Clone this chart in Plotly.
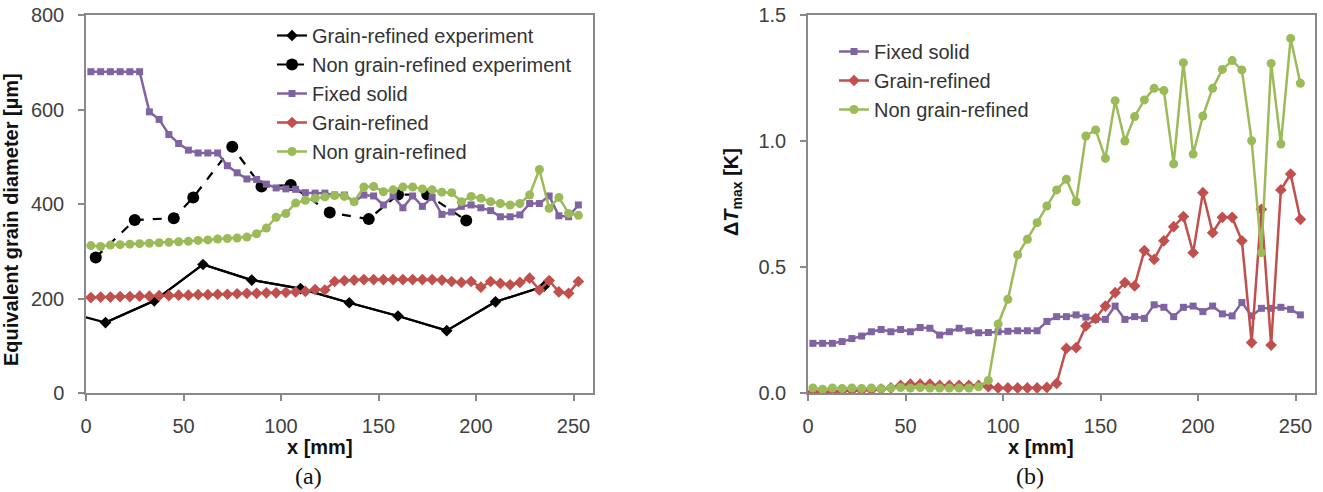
import plotly.graph_objects as go

# ---------------- data ----------------
x_sim = [2.5 + 5 * i for i in range(51)]

# Panel (a): equivalent grain diameter [µm]
gr_exp_x = [0, 10, 35, 60, 85, 110, 135, 160, 185, 210, 235]
gr_exp_y = [160, 149, 195, 272, 239, 221, 191, 163, 132, 193, 226]

ngr_exp_x = [5, 25, 45, 55, 75, 90, 105, 125, 145, 160, 175, 195]
ngr_exp_y = [287, 366, 370, 414, 521, 437, 440, 382, 368, 420, 420, 365]

fixed_a = [680, 680, 680, 680, 680, 680, 595, 579, 547, 528, 514, 508, 508, 508,
           481, 466, 453, 452, 442, 434, 432, 431, 424, 423, 423, 419, 419, 405,
           419, 417, 398, 417, 392, 417, 395, 414, 378, 383, 395, 398, 392, 386,
           373, 373, 377, 401, 401, 417, 375, 373, 398]

grain_a = [202, 203, 203, 204, 204, 205, 205, 206, 206, 207, 207, 208, 208, 209,
           209, 210, 211, 211, 212, 212, 213, 214, 215, 219, 218, 236, 238, 239,
           240, 240, 240, 240, 240, 240, 240, 240, 239, 236, 234, 236, 224, 236,
           232, 229, 234, 243, 218, 238, 214, 211, 236]

nongrain_a = [312, 310, 313, 314, 315, 316, 317, 318, 319, 320, 321, 323, 324, 326,
              327, 328, 330, 337, 349, 372, 380, 402, 408, 412, 415, 418, 416, 405,
              436, 437, 426, 430, 436, 436, 432, 430, 425, 424, 405, 416, 412, 405,
              401, 398, 401, 419, 473, 391, 414, 380, 376]

# Panel (b): ΔT_max [K]
fixed_b = [0.197, 0.197, 0.197, 0.204, 0.216, 0.226, 0.243, 0.252, 0.243, 0.252,
           0.243, 0.26, 0.257, 0.23, 0.243, 0.257, 0.247, 0.239, 0.24, 0.243,
           0.245, 0.247, 0.247, 0.247, 0.284, 0.303, 0.303, 0.31, 0.301, 0.292,
           0.292, 0.345, 0.292, 0.303, 0.296, 0.35, 0.34, 0.303, 0.34, 0.345,
           0.323, 0.345, 0.314, 0.306, 0.359, 0.306, 0.336, 0.336, 0.34, 0.332, 0.31]

grain_b = [0.005, 0.005, 0.005, 0.008, 0.01, 0.01, 0.012, 0.015, 0.02, 0.03,
           0.035, 0.035, 0.035, 0.03, 0.03, 0.03, 0.03, 0.03, 0.025, 0.02,
           0.02, 0.02, 0.02, 0.02, 0.022, 0.038, 0.177, 0.18, 0.266, 0.296,
           0.345, 0.398, 0.438, 0.425, 0.565, 0.53, 0.604, 0.66, 0.70, 0.557,
           0.795, 0.636, 0.697, 0.697, 0.604, 0.2, 0.729, 0.19, 0.806, 0.869, 0.689]

nongrain_b = [0.02, 0.015, 0.02, 0.018, 0.02, 0.018, 0.02, 0.018, 0.02, 0.022,
              0.02, 0.022, 0.02, 0.02, 0.02, 0.02, 0.02, 0.025, 0.05, 0.274,
              0.372, 0.548, 0.61, 0.676, 0.742, 0.806, 0.848, 0.759, 1.02, 1.044,
              0.931, 1.16, 1.0, 1.097, 1.163, 1.209, 1.2, 0.909, 1.311, 0.948,
              1.099, 1.209, 1.284, 1.319, 1.282, 1.001, 0.557, 1.308, 0.988, 1.407, 1.229]

yticks_a = [0, 200, 400, 600, 800]
yticks_b = [0.0, 0.5, 1.0, 1.5]
yticklabels_b = ["0.0", "0.5", "1.0", "1.5"]
xticks = [0, 50, 100, 150, 200, 250]

# ---------------- style ----------------
PURPLE = "#8064A2"
RED = "#C0504D"
GREEN = "#9BBB59"
BLACK = "#000000"
GRID = "#898989"
FONT = "Liberation Sans, Arial, sans-serif"
W, H = 1323, 492

fig = go.Figure()

# Panel (a)
# full line of the grain-refined experiment (starts on the axis edge, no marker there)
fig.add_trace(go.Scatter(x=gr_exp_x, y=gr_exp_y, mode="lines", showlegend=False,
                         line=dict(color=BLACK, width=2.2), hoverinfo="skip",
                         xaxis="x", yaxis="y"))
fig.add_trace(go.Scatter(x=gr_exp_x[1:], y=gr_exp_y[1:], name="Grain-refined experiment",
                         mode="lines+markers", line=dict(color=BLACK, width=2.2),
                         marker=dict(symbol="diamond", size=9, color=BLACK),
                         xaxis="x", yaxis="y", legend="legend"))
fig.add_trace(go.Scatter(x=ngr_exp_x, y=ngr_exp_y, name="Non grain-refined experiment",
                         mode="lines+markers", line=dict(color=BLACK, width=2.2, dash="dash"),
                         marker=dict(symbol="circle", size=12, color=BLACK),
                         xaxis="x", yaxis="y", legend="legend"))
fig.add_trace(go.Scatter(x=x_sim, y=fixed_a, name="Fixed solid", mode="lines+markers",
                         line=dict(color=PURPLE, width=2.5),
                         marker=dict(symbol="square", size=7, color=PURPLE),
                         xaxis="x", yaxis="y", legend="legend"))
fig.add_trace(go.Scatter(x=x_sim, y=grain_a, name="Grain-refined", mode="lines+markers",
                         line=dict(color=RED, width=2.5),
                         marker=dict(symbol="diamond", size=9, color=RED),
                         xaxis="x", yaxis="y", legend="legend"))
fig.add_trace(go.Scatter(x=x_sim, y=nongrain_a, name="Non grain-refined", mode="lines+markers",
                         line=dict(color=GREEN, width=2.5),
                         marker=dict(symbol="circle", size=9, color=GREEN),
                         xaxis="x", yaxis="y", legend="legend"))

# Panel (b)
fig.add_trace(go.Scatter(x=x_sim, y=fixed_b, name="Fixed solid", mode="lines+markers",
                         line=dict(color=PURPLE, width=2.5),
                         marker=dict(symbol="square", size=7, color=PURPLE),
                         xaxis="x2", yaxis="y2", legend="legend2"))
fig.add_trace(go.Scatter(x=x_sim, y=grain_b, name="Grain-refined", mode="lines+markers",
                         line=dict(color=RED, width=2.5),
                         marker=dict(symbol="diamond", size=9, color=RED),
                         xaxis="x2", yaxis="y2", legend="legend2"))
fig.add_trace(go.Scatter(x=x_sim, y=nongrain_b, name="Non grain-refined", mode="lines+markers",
                         line=dict(color=GREEN, width=2.5),
                         marker=dict(symbol="circle", size=9, color=GREEN),
                         xaxis="x2", yaxis="y2", legend="legend2"))

def px_x(p):
    return p / W

def px_y(p):
    return 1 - p / H

axis_common = dict(showgrid=False, zeroline=False, showline=True, linecolor=GRID,
                   linewidth=1.5, mirror=True, ticks="outside", ticklen=6,
                   tickcolor=GRID, tickwidth=1.5, automargin=False,
                   tickfont=dict(family=FONT, size=20, color="#404040"))

fig.update_layout(
    width=W, height=H, margin=dict(l=0, r=0, t=0, b=0, pad=0, autoexpand=False),
    paper_bgcolor="white", plot_bgcolor="white",
    font=dict(family=FONT, size=20, color="#333333"),
    xaxis=dict(domain=[px_x(86), px_x(593)], range=[0, 260], tickvals=xticks,
               anchor="y", ticklabelstandoff=8, **axis_common),
    yaxis=dict(domain=[px_y(393), px_y(15)], range=[0, 800], tickvals=yticks_a,
               anchor="x", ticklabelstandoff=10, **axis_common),
    xaxis2=dict(domain=[px_x(808), px_x(1315)], range=[0, 260], tickvals=xticks,
                anchor="y2", ticklabelstandoff=8, **axis_common),
    yaxis2=dict(domain=[px_y(393), px_y(15)], range=[0, 1.5], tickvals=yticks_b,
                ticktext=yticklabels_b, anchor="x2", ticklabelstandoff=10, **axis_common),
    legend=dict(x=px_x(272), y=px_y(16), xanchor="left", yanchor="top",
                bgcolor="rgba(0,0,0,0)", font=dict(family=FONT, size=20, color="#333333"),
                itemwidth=30, tracegroupgap=0),
    legend2=dict(x=px_x(834), y=px_y(32), xanchor="left", yanchor="top",
                 bgcolor="rgba(0,0,0,0)", font=dict(family=FONT, size=20, color="#333333"),
                 itemwidth=30, tracegroupgap=0),
    showlegend=True,
)

annotations = [
    dict(text="<b>x [mm]</b>", x=px_x(320), y=px_y(447), font=dict(size=20, color="#111111")),
    dict(text="<b>x [mm]</b>", x=px_x(1041), y=px_y(447), font=dict(size=20, color="#111111")),
    dict(text="(a)", x=px_x(308), y=px_y(476),
         font=dict(family="Liberation Serif, Times New Roman, serif", size=24, color="#111111")),
    dict(text="(b)", x=px_x(1030), y=px_y(476),
         font=dict(family="Liberation Serif, Times New Roman, serif", size=24, color="#111111")),
    dict(text="<b>Equivalent grain diameter [µm]</b>", x=px_x(11), y=px_y(220), textangle=-90,
         font=dict(size=20, color="#111111")),
    dict(text="<b>Δ<i>T</i><sub>max</sub> [K]</b>", x=px_x(732), y=px_y(192), textangle=-90,
         font=dict(size=20, color="#111111")),
]
for a in annotations:
    a.update(xref="paper", yref="paper", showarrow=False, xanchor="center", yanchor="middle")
    a["font"].setdefault("family", FONT)
fig.update_layout(annotations=annotations)

fig.write_html("out.html")
